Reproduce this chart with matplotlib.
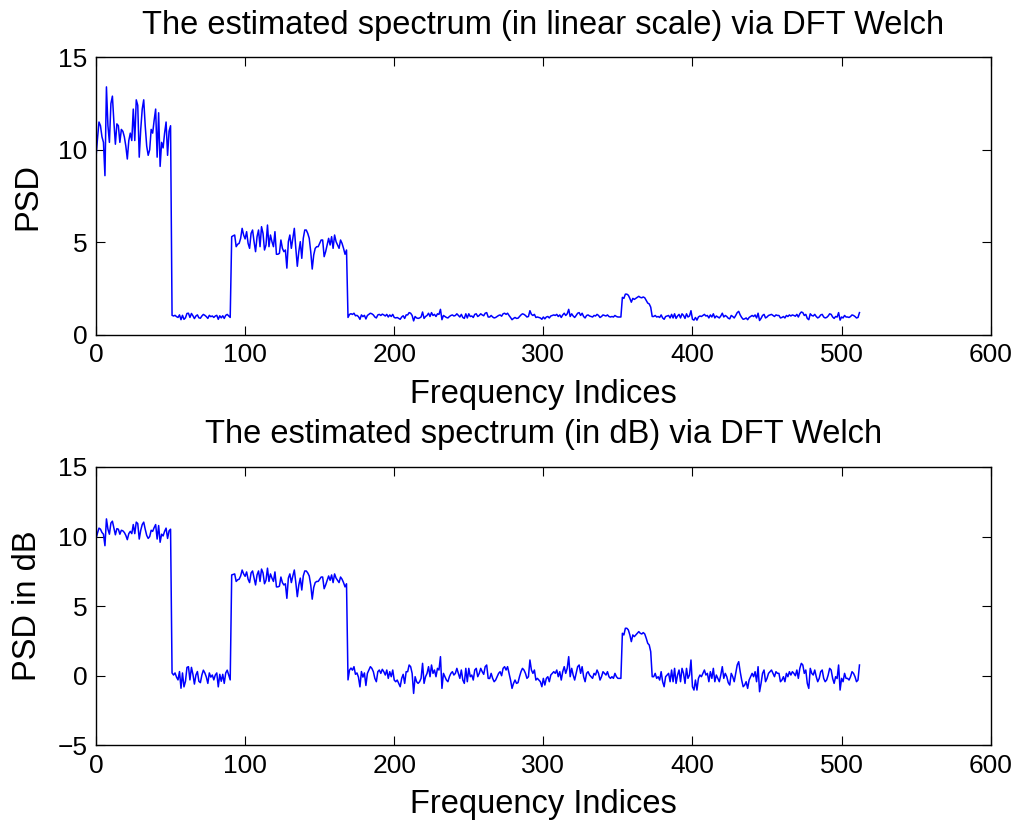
import numpy as np
import matplotlib
matplotlib.use("Agg")
import matplotlib.pyplot as plt

# ---- data ----
# band 1, indices 0..50, linear PSD
band1_psd = [9.6, 10.6, 11.5, 11.3, 10.7, 10.4, 8.6, 13.4, 11.3, 10.4,
             12.5, 12.9, 11.5, 10.3, 11.4, 11.3, 10.4, 11.1, 11.0, 10.7,
             10.2, 9.5, 10.5, 10.9, 10.5, 12.2, 10.5, 12.7, 12.4, 9.6,
             11.1, 12.2, 12.7, 11.3, 10.2, 9.7, 10.0, 11.1, 10.9, 11.6,
             12.2, 9.6, 12.0, 9.1, 10.4, 10.1, 10.9, 11.5, 9.7, 11.0,
             11.3]
# gap, indices 51..90, in dB
gap1_db = [0.2, 0.05, 0.2, -0.1, -0.3, 0.3, -0.9, 0.2, -0.8, -0.4,
           0.6, 0.65, -0.3, 0.6, 0.1, -0.6, 0.05, 0.3, -0.4, -0.5,
           0.05, 0.4, 0.2, -0.1, -0.55, 0.2, -0.1, 0.05, -0.3, 0.05,
           0.2, -0.8, 0.1, -0.4, 0.1, -0.55, 0.2, 0.4, 0.05, -0.3]
# band 2, indices 91..168, linear PSD
band2_psd = [5.3, 5.35, 5.39, 4.76, 4.89, 4.94, 5.21, 5.75, 5.39, 5.18,
             5.57, 4.94, 4.67, 5.48, 5.66, 5.03, 4.49, 5.30, 5.66, 4.76,
             5.84, 5.48, 4.58, 4.85, 5.93, 4.76, 5.39, 5.03, 4.76, 5.57,
             4.35, 4.35, 4.40, 5.12, 4.67, 4.49, 4.58, 3.6, 5.03, 5.39,
             4.67, 5.21, 5.75, 4.67, 3.7, 4.49, 5.03, 4.13, 5.21, 5.66,
             5.66, 5.48, 5.21, 4.49, 3.55, 4.31, 4.67, 4.76, 4.76, 4.94,
             5.12, 5.12, 4.22, 4.49, 4.85, 5.21, 4.85, 5.30, 4.67, 5.39,
             5.03, 4.85, 4.67, 5.12, 4.94, 4.67, 4.35, 4.58]
# floor, indices 169..352, in dB
floor1_db = [-0.3, 0.4, 0.55, 0.4, 0.65, 0.1, 0.2, -0.1, -0.8, 0.3, -0.1, 0.2, -0.7,
             0.17, 0.41, 0.65, 0.53, 0.29, -0.19, -0.43, 0.29, 0.41, 0.17,
             0.46, 0.29, 0.05, 0.41, -0.19, 0.29, -0.07, 0.41, -0.31, -0.43,
             -0.31, -0.55, -0.79, -0.19, 0.1, -0.55, 0.29, 0.29, 0.77, 0.65,
             0.17, -1.27, -0.07, -0.43, -0.55, -0.43, -0.19, 0.89, -0.55, -0.07,
             0.17, 0.65, -0.07, 0.77, 0.17, 0.41, -0.07, 0.53, 0.41, 1.37,
             -0.91, 0.17, -0.07, -0.31, -0.43, -0.07, 0.17, 0.29, 0.05, 0.17,
             0.53, 0.17, -0.19, 0.41, -0.31, -0.55, 0.53, -0.43, 0.53, -0.07,
             0.05, -0.31, 0.41, 0.53, -0.07, 0.17, 0.53, 0.29, 0.1, 0.65,
             0.77, -0.19,
             -0.2, 0.17, -0.19, -0.43, -0.31, -0.07, 0.17, 0.29, 0.0, 0.53,
             0.65, 0.41, 0.65, 0.17, -0.31, -0.91, -0.55, -0.31, -0.55, -0.5,
             -0.07, 0.29, 0.53, 0.41, 0.17, -0.19, -0.07, 1.13, 0.41, 0.17,
             0.41, -0.31, -0.19, -0.31, -0.43, -0.79, -0.19, -0.67, -0.19, -0.07,
             -0.43, 0.05, 0.17, 0.29, 0.17, 0.41, -0.07, 0.29, -0.31, 0.29,
             0.65, 0.17, 0.53, 1.37, -0.07, 0.53, 0.05, -0.31, 0.17, 0.65,
             0.77, 0.17, 0.65, -0.07, -0.43, 0.17, 0.29, 0.05, -0.07, -0.19,
             0.17, 0.05, 0.41, 0.17, -0.31, -0.07, 0.29, 0.17, 0.05, 0.29,
             -0.07, -0.19, -0.07, -0.19, 0.17, -0.07, -0.19, -0.19,
             -0.19]
# band 3, indices 353..372, in dB
band3_db = [3.05, 2.93, 3.41, 3.41, 3.29, 2.93, 2.45, 2.93, 2.81, 2.93,
            3.05, 3.17, 3.05, 3.0, 3.1, 3.0, 2.69, 2.33, 2.21, 1.73]
# floor, indices 373..512, in dB
floor2_db = [-0.07, -0.07, 0.17, -0.19, -0.07, -0.31, 0.29,
             -0.43, -0.79, -0.07, 0.05, 0.17, -0.43, 0.41, -0.43, 0.53, -0.55,
             0.05, 0.41, -0.43, 0.53, 0.17, -0.55, 0.53, -0.19, 0.05, 1.13,
             -0.79, -1.03, -0.31, -1.03, -0.19, 0.05, -0.07, 0.17, 0.41, 0.05,
             0.17, -0.43, 0.29, -0.19, 0.53, -0.43, 0.05, -0.19, -0.43, 0.05,
             0.65, -0.19, 0.17, -0.07, -0.5, -0.67, 0.17, -0.07, -0.43, 0.17,
             0.77, 1.01, 0.29, -0.31, -0.79, -0.67, -0.43, -0.91, -0.31, -0.07,
             0.17, -0.07, 0.29, -0.43, 0.65, -1.15, -0.55, 0.17, 0.41, -0.43,
             -0.19, 0.17, 0.29, 0.41, 0.17, -0.07, 0.29, 0.17, 0.17, -0.43,
             -0.31, -0.07, -0.43, 0.17, -0.07, 0.29, 0.05, 0.29, 0.17, 0.0,
             0.41, -0.19, 0.53, 0.89, 0.77, 0.17, 0.41, -0.55, -0.91, 0.53,
             0.17, 0.05, 0.41, -0.07, -0.43, -0.19, 0.29, 0.41, -0.19, -0.43,
             -0.3, 0.05, 0.53, 0.41, -0.19, -0.55, -0.07, -0.2, 0.77, -1.03,
             -0.19, -0.43, 0.17, -0.19, -0.19, -0.31, -0.07, 0.29, 0.17, -0.07,
             -0.43, -0.31, 0.77]

x_ticks = [0, 100, 200, 300, 400, 500, 600]
y_ticks_lin = [0, 5, 10, 15]
y_ticks_db = [-5, 0, 5, 10, 15]

title_lin = "The estimated spectrum (in linear scale) via DFT Welch"
title_db = "The estimated spectrum (in dB) via DFT Welch"
xlabel = "Frequency Indices"
ylabel_lin = "PSD"
ylabel_db = "PSD in dB"


def db2lin(v):
    return 10 ** (np.asarray(v, dtype=float) / 10)


psd = np.concatenate([np.asarray(band1_psd, float), db2lin(gap1_db),
                      np.asarray(band2_psd, float), db2lin(floor1_db),
                      db2lin(band3_db), db2lin(floor2_db)])
psd_db = 10 * np.log10(psd)
idx = np.arange(len(psd))

# ---- figure ----
plt.rcParams['font.family'] = ['Liberation Sans', 'DejaVu Sans']
W, H = 1017, 823
fig = plt.figure(figsize=(W / 100, H / 100), dpi=100)


def px_ax(l, t, r, b):
    return [l / W, 1 - b / H, (r - l) / W, (b - t) / H]


ax1 = fig.add_axes(px_ax(96, 57.3, 990.7, 334.7))
ax2 = fig.add_axes(px_ax(96, 467, 990.7, 745.3))

blue = (0, 0, 1)
ax1.plot(idx, psd, color=blue, lw=1.1)
ax2.plot(idx, psd_db, color=blue, lw=1.1)

ax1.set_xlim(0, 600)
ax1.set_ylim(0, 15)
ax1.set_yticks(y_ticks_lin)
ax2.set_xlim(0, 600)
ax2.set_ylim(-5, 15)
ax2.set_yticks(y_ticks_db)
ax2.set_yticklabels(["\u22125" if t < 0 else str(t) for t in y_ticks_db])

for ax in (ax1, ax2):
    ax.set_xticks(x_ticks)
    ax.tick_params(direction='in', length=6.5, width=0.8, labelsize=19,
                   pad=6, top=True, right=True, color='black')
    for s in ax.spines.values():
        s.set_linewidth(1.0)
        s.set_color('black')

cx = (96 + 990.7) / 2 / W
fs = 23.5
fig.text(cx, 1 - 34 / H, title_lin, ha='center', va='baseline', fontsize=fs)
fig.text(cx, 1 - 443 / H, title_db, ha='center', va='baseline', fontsize=fs)
fig.text(cx, 1 - 403 / H, xlabel, ha='center', va='baseline', fontsize=fs)
fig.text(cx, 1 - 813 / H, xlabel, ha='center', va='baseline', fontsize=fs)
fig.text(28 / W, 1 - 196 / H, ylabel_lin, ha='center', va='center',
         rotation=90, fontsize=fs)
fig.text(28 / W, 1 - 606 / H, ylabel_db, ha='center', va='center',
         rotation=90, fontsize=fs)

fig.savefig("out.png", dpi=100)
